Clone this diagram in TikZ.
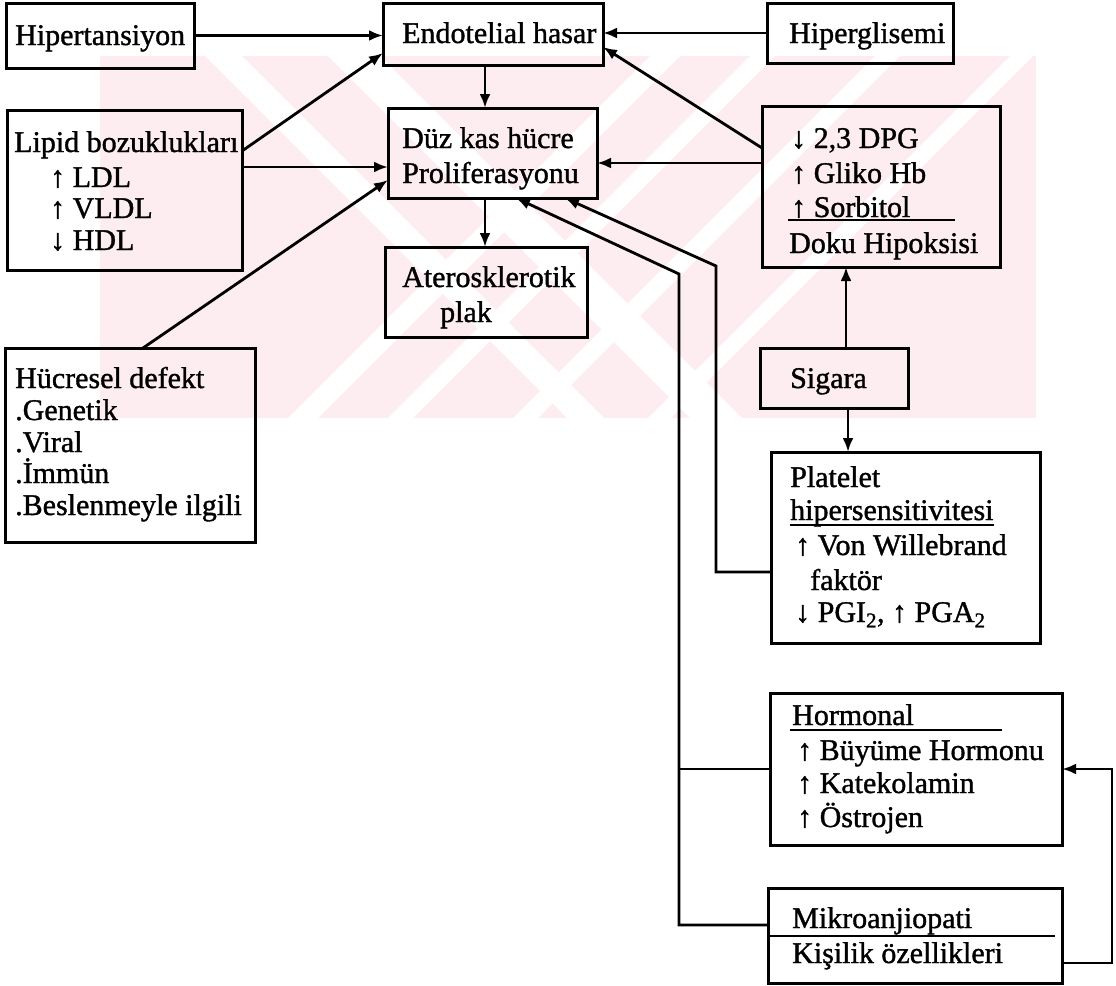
\documentclass[tikz,border=0pt]{standalone}
\usepackage{fontspec}
\setmainfont{Liberation Serif}[FakeBold=1.2]
\usetikzlibrary{arrows.meta,calc}
\definecolor{wmpink}{RGB}{253,237,240}
\begin{document}
\begin{tikzpicture}[x=1pt,y=-1pt,
  box/.style={draw,line width=3pt,anchor=north west,inner sep=0pt,outer sep=0pt},
  txt/.style={anchor=base west,inner sep=0pt,font=\fontsize{30}{33}\selectfont},
  conn/.style={line width=2.8pt},
  arr/.style={conn,-{Latex[length=14pt,width=11pt]}},
  rule/.style={line width=2.4pt}]
\useasboundingbox (0,0) rectangle (1116,985);
% watermark
\begin{scope}
\clip (100,56) rectangle (1036,418);
\fill[wmpink] (100,56) rectangle (1036,418);
\fill[white] (205,56) -- (242,56) -- (604,418) -- (567,418) -- cycle;
\fill[white] (328,56) -- (380,56) -- (742,418) -- (690,418) -- cycle;
\fill[white] (650,56) -- (680,56) -- (318,418) -- (288,418) -- cycle;
\fill[white] (750,56) -- (775,56) -- (413,418) -- (388,418) -- cycle;
\fill[white] (875,56) -- (900,56) -- (538,418) -- (513,418) -- cycle;
\fill[white] (1010,56) -- (1033,56) -- (671,418) -- (648,418) -- cycle;
\end{scope}
% boxes
\node[box,minimum width=188pt,minimum height=65pt] (hip) at (6,3) {};
\node[box,minimum width=220pt,minimum height=62pt] (endo) at (383,3) {};
\node[box,minimum width=186pt,minimum height=60pt] (hgl) at (767,3) {};
\node[box,minimum width=235pt,minimum height=160pt] (lip) at (7,110) {};
\node[box,minimum width=209pt,minimum height=90pt] (duz) at (388,108) {};
\node[box,minimum width=238pt,minimum height=161pt] (dpg) at (762,106) {};
\node[box,minimum width=202pt,minimum height=90pt] (ath) at (385,247) {};
\node[box,minimum width=250pt,minimum height=194pt] (huc) at (5,348) {};
\node[box,minimum width=148pt,minimum height=60pt] (sig) at (760,348) {};
\node[box,minimum width=269pt,minimum height=191pt] (pla) at (771,452) {};
\node[box,minimum width=292pt,minimum height=152pt] (hor) at (770,693) {};
\node[box,minimum width=294pt,minimum height=95pt] (mik) at (768,888) {};
% texts
\node[txt] (t1) at (15,45) {Hipertansiyon};
\node[txt] (t2) at (402,43) {Endotelial hasar};
\node[txt] (t3) at (789,43) {Hiperglisemi};
\node[txt] (t4) at (14,152) {Lipid bozuklukları};
\node[txt] (t5) at (50,187) {↑ LDL};
\node[txt] (t6) at (50,218) {↑ VLDL};
\node[txt] (t7) at (50,250) {↓ HDL};
\node[txt] (t8) at (402,148) {Düz kas hücre};
\node[txt] (t9) at (402,183) {Proliferasyonu};
\node[txt] (t10) at (402,287) {Aterosklerotik};
\node[txt] (t11) at (440,322) {plak};
\node[txt] (t12) at (791,148) {↓ 2,3 DPG};
\node[txt] (t13) at (791,183) {↑ Gliko Hb};
\node[txt] (t14) at (791,217) {↑ Sorbitol};
\node[txt] (t15) at (789,253) {Doku Hipoksisi};
\node[txt] (t16) at (15,388) {Hücresel defekt};
\node[txt] (t17) at (15,420) {.Genetik};
\node[txt] (t18) at (15,452) {.Viral};
\node[txt] (t19) at (15,483) {.İmmün};
\node[txt] (t20) at (15,515) {.Beslenmeyle ilgili};
\node[txt] (t21) at (790,388) {Sigara};
\node[txt] (t22) at (790,487) {Platelet};
\node[txt] (t23) at (790,520) {hipersensitivitesi};
\node[txt] (t24) at (795,555) {↑ Von Willebrand};
\node[txt] (t25) at (810,590) {faktör};
\node[txt] (t26) at (795,622) {↓ PGI\textsubscript{2}, ↑ PGA\textsubscript{2}};
\node[txt] (t27) at (792,725) {Hormonal};
\node[txt] (t28) at (797,760) {↑ Büyüme Hormonu};
\node[txt] (t29) at (797,793) {↑ Katekolamin};
\node[txt] (t30) at (797,827) {↑ Östrojen};
\node[txt] (t31) at (792,928) {Mikroanjiopati};
\node[txt] (t32) at (792,963) {Kişilik özellikleri};
% rules inside boxes
\draw[rule] ($(dpg.north west)+(26,114)$) -- ($(dpg.north west)+(193,114)$);
\draw[rule] ($(t23.base west)+(0,5)$) -- ($(t23.base east)+(0,5)$);
\draw[rule] ($(hor.north west)+(20,37)$) -- ($(hor.north west)+(232,37)$);
\draw[rule] ($(mik.north west)+(2,48)$) -- ($(mik.north west)+(287,48)$);
% connectors
\draw[arr] (hip.east) -- (hip.east -| endo.west);
\draw[arr] ($(lip.north east)+(0,41)$) -- ($(endo.north west)+(0,50)$);
\draw[arr] ($(lip.north east)+(0,57)$) -- ($(duz.north west)+(0,59)$);
\draw[arr] ($(huc.north west)+(138,0)$) -- ($(duz.north west)+(0,72)$);
\draw[arr] ($(endo.south west)+(102,0)$) -- ($(duz.north west)+(97,0)$);
\draw[arr] ($(duz.south west)+(97,0)$) -- ($(ath.north west)+(100,0)$);
\draw[arr] (hgl.west) -- (hgl.west -| endo.east);
\draw[arr] ($(dpg.north west)+(0,42)$) -- ($(endo.north east)+(0,44)$);
\draw[arr] ($(dpg.north west)+(0,57)$) -- ($(duz.north east)+(0,55)$);
\draw[arr] ($(sig.north west)+(86,0)$) -- ($(dpg.south west)+(84,0)$);
\draw[arr] ($(sig.south west)+(88,0)$) -- ($(pla.north west)+(77,0)$);
\coordinate (p1) at (716,572);
\coordinate (p2) at (716,266);
\draw[arr] ($(pla.north west)+(0,120)$) -- (p1) -- (p2) -- ($(duz.south west)+(177,0)$);
\coordinate (q0) at (679,769);
\coordinate (q1) at (679,925);
\coordinate (q2) at (679,274);
\draw[conn] (hor.west) -- (q0);
\draw[arr] ($(mik.north west)+(0,37)$) -- (q1) -- (q2) -- ($(duz.south west)+(128,0)$);
\coordinate (r1) at (1112,963);
\coordinate (r2) at (1112,769);
\draw[arr] ($(mik.north east)+(0,75)$) -- (r1) -- (r2) -- (hor.east);
\end{tikzpicture}
\end{document}
